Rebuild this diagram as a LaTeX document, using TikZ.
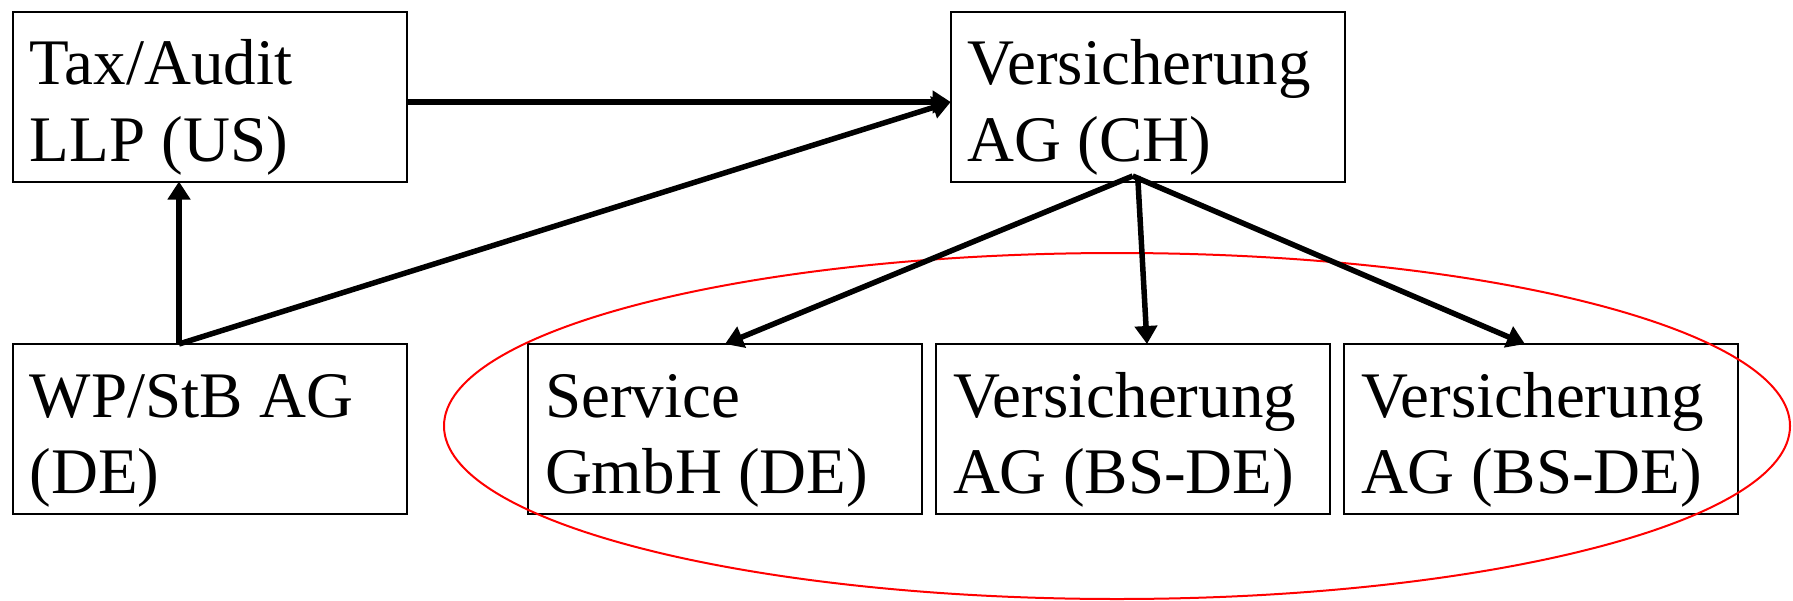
\documentclass[tikz,border=0pt]{standalone}
\usepackage{fontspec}
\setmainfont{Liberation Serif}
\usetikzlibrary{arrows.meta}

% two left-aligned lines inside a fixed-size box
\newcommand\orgtext[2]{\vbox to 85pt{%
  \hbox to 197pt{\hskip 8.5pt\rule{0pt}{36.5pt}#1\hfil}%
  \hbox to 197pt{\hskip 8.5pt #2\hfil}\vss}}

\begin{document}
\begin{tikzpicture}[x=0.5pt,y=-0.5pt,
  orgbox/.style={draw, line width=1pt, inner sep=0pt, outer sep=0pt,
    anchor=north west, font=\fontsize{32.5pt}{38.3pt}\selectfont},
  arr/.style={line width=2.75pt, -{Triangle[length=9pt,width=11pt]}},
  group/.style={draw=red, line width=1pt}]
\useasboundingbox (0,0) rectangle (1793,600);

% entities
\node[orgbox] (tax)  at (12.7,11.5) {\orgtext{Tax/Audit}{LLP (US)}};
\node[orgbox] (ch)   at (950.7,11.5) {\orgtext{Versicherung}{AG (CH)}};
\node[orgbox] (wp)   at (12.7,344) {\orgtext{WP/StB AG}{(DE)}};
\node[orgbox] (svc)  at (528,344) {\orgtext{Service}{GmbH (DE)}};
\node[orgbox] (vbs1) at (936,344) {\orgtext{Versicherung}{AG (BS-DE)}};
\node[orgbox] (vbs2) at (1344,344) {\orgtext{Versicherung}{AG (BS-DE)}};

% grouping of the German subsidiaries
\coordinate (gc) at (1117,426);
\draw[group] (gc) ellipse [x radius=336.5pt, y radius=86.5pt];

% connection points
\coordinate (chin)  at ([yshift=-2.75pt]ch.west);
\coordinate (wptop) at ([xshift=-15.35pt]wp.north);
\coordinate (chout) at ([xshift=-7.5pt,yshift=2.75pt]ch.south);
\coordinate (chmid) at ([xshift=-5pt,yshift=2.75pt]ch.south);

% relations
\draw[arr] (tax.east |- chin) -- (chin);
\draw[arr] (wptop) -- (chin);
\draw[arr] (wptop) -- (wptop |- tax.south);
\draw[arr] (chout) -- (svc.north);
\draw[arr] (chmid) -- ([xshift=7pt]vbs1.north);
\draw[arr] (chout) -- ([xshift=-8pt]vbs2.north);
\end{tikzpicture}
\end{document}
